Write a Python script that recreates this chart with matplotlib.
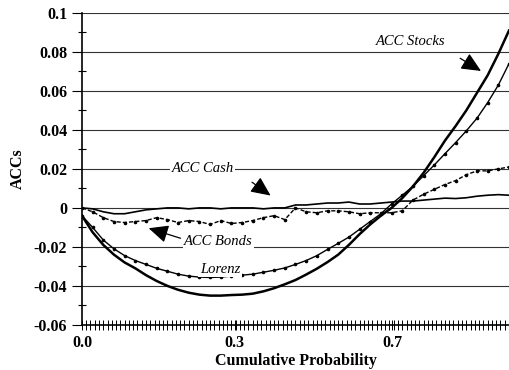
import numpy as np
import matplotlib
matplotlib.use('Agg')
import matplotlib.pyplot as plt
from matplotlib.ticker import MultipleLocator, FixedLocator

# horizontal position along the axis (0 = left spine, 1 = right edge)
cum_prob = [0.000, 0.025, 0.050, 0.075, 0.100, 0.125, 0.150, 0.175, 0.200, 0.225,
            0.250, 0.275, 0.300, 0.325, 0.350, 0.375, 0.400, 0.425, 0.450, 0.475,
            0.500, 0.525, 0.550, 0.575, 0.600, 0.625, 0.650, 0.675, 0.700, 0.725,
            0.750, 0.775, 0.800, 0.825, 0.850, 0.875, 0.900, 0.925, 0.950, 0.975, 1.000]

acc_stocks = [-0.0040, -0.0125, -0.0190, -0.0240, -0.0280, -0.0310, -0.0345, -0.0375,
              -0.0400, -0.0420, -0.0435, -0.0445, -0.0450, -0.0450, -0.0447, -0.0445,
              -0.0440, -0.0428, -0.0412, -0.0392, -0.0370, -0.0342, -0.0312, -0.0278,
              -0.0240, -0.0190, -0.0135, -0.0085, -0.0040, 0.0000, 0.0050, 0.0110,
              0.0180, 0.0260, 0.0345, 0.0420, 0.0500, 0.0590, 0.0680, 0.0790, 0.0910]

lorenz = [-0.0040, -0.0100, -0.0165, -0.0210, -0.0245, -0.0270, -0.0290, -0.0310,
          -0.0325, -0.0340, -0.0350, -0.0355, -0.0357, -0.0355, -0.0350, -0.0345,
          -0.0340, -0.0330, -0.0320, -0.0308, -0.0290, -0.0270, -0.0245, -0.0213,
          -0.0182, -0.0150, -0.0110, -0.0070, -0.0030, 0.0020, 0.0065, 0.0110,
          0.0165, 0.0220, 0.0278, 0.0335, 0.0395, 0.0460, 0.0540, 0.0630, 0.0740]

acc_cash = [0.0000, -0.0005, -0.0020, -0.0030, -0.0030, -0.0020, -0.0010, -0.0005,
            0.0000, 0.0000, -0.0005, 0.0000, 0.0000, -0.0005, 0.0000, 0.0000,
            0.0000, -0.0005, 0.0000, 0.0000, 0.0015, 0.0015, 0.0020, 0.0025,
            0.0025, 0.0030, 0.0020, 0.0020, 0.0025, 0.0030, 0.0035, 0.0035,
            0.0040, 0.0045, 0.0050, 0.0048, 0.0052, 0.0060, 0.0065, 0.0068, 0.0065]

acc_bonds = [0.0000, -0.0020, -0.0050, -0.0070, -0.0075, -0.0070, -0.0065, -0.0050,
             -0.0060, -0.0075, -0.0065, -0.0070, -0.0085, -0.0065, -0.0080, -0.0075,
             -0.0065, -0.0050, -0.0040, -0.0060, 0.0000, -0.0020, -0.0025, -0.0015,
             -0.0015, -0.0020, -0.0030, -0.0025, -0.0025, -0.0025, -0.0015, 0.0040,
             0.0070, 0.0095, 0.0120, 0.0140, 0.0170, 0.0190, 0.0190, 0.0200, 0.0210]

xtick_pos = [0.0, 0.358, 0.726]
xtick_labels = ['0.0', '0.3', '0.7']

serif = ['Liberation Serif', 'DejaVu Serif']

fig = plt.figure(figsize=(5.09, 3.70), dpi=100)
ax = fig.add_axes([0.161, 0.122, 0.839, 0.843])

for yv in np.arange(-0.04, 0.101, 0.02):
    ax.axhline(yv, color='#333333', lw=0.8, zorder=1)

ax.plot(cum_prob, acc_stocks, color='black', lw=1.8, zorder=3)
ax.plot(cum_prob, lorenz, color='black', lw=1.0, marker='o', ms=1.6, zorder=3)
ax.plot(cum_prob, acc_cash, color='black', lw=1.2, zorder=3)
ax.plot(cum_prob, acc_bonds, color='black', lw=1.0, ls=(0, (3, 1.5)), marker='o', ms=1.6, zorder=3)

ax.set_xlim(0, 1)
ax.set_ylim(-0.06, 0.1)

for s in ['top', 'right']:
    ax.spines[s].set_visible(False)
ax.spines['left'].set_linewidth(1.2)
ax.spines['bottom'].set_linewidth(1.2)

ax.yaxis.set_minor_locator(MultipleLocator(0.01))
ax.set_yticks(np.arange(-0.06, 0.101, 0.02))
ax.set_yticklabels(['-0.06', '-0.04', '-0.02', '0', '0.02', '0.04', '0.06', '0.08', '0.1'])
ax.tick_params(axis='y', which='major', direction='out', length=7, width=0.8)
ax.tick_params(axis='y', which='minor', direction='inout', length=6, width=0.8)

ax.xaxis.set_major_locator(FixedLocator(xtick_pos))
ax.set_xticklabels(xtick_labels)
ax.xaxis.set_minor_locator(MultipleLocator(0.01))
ax.tick_params(axis='x', which='both', direction='inout', length=7, width=0.7)

for lab in ax.get_xticklabels() + ax.get_yticklabels():
    lab.set_fontfamily(serif)
    lab.set_fontweight('bold')
    lab.set_fontsize(11.5)

ax.set_ylabel('ACCs', family=serif, fontweight='bold', fontsize=11.5, labelpad=6)
ax.set_xlabel('Cumulative Probability', family=serif, fontweight='bold', fontsize=11.5, labelpad=2)

arrow = dict(arrowstyle='-|>,head_length=1.2,head_width=0.55', color='black', lw=0.9)
ax.annotate('', xy=(0.940, 0.0695), xytext=(0.880, 0.0775), arrowprops=arrow, zorder=4)
ax.annotate('', xy=(0.447, 0.0055), xytext=(0.393, 0.0140), arrowprops=arrow, zorder=4)
ax.annotate('', xy=(0.150, -0.0100), xytext=(0.237, -0.0160), arrowprops=arrow, zorder=4)

tkw = dict(family=serif, style='italic', fontsize=10.5, ha='center', va='center', zorder=5)
ax.text(0.770, 0.0855, 'ACC Stocks', bbox=dict(fc='white', ec='none', pad=1), **tkw)
ax.text(0.283, 0.0200, 'ACC Cash', bbox=dict(fc='white', ec='none', pad=1), **tkw)
ax.text(0.320, -0.0170, 'ACC Bonds', bbox=dict(fc='white', ec='none', pad=1), **tkw)
ax.text(0.323, -0.0315, 'Lorenz', bbox=dict(fc='white', ec='none', pad=1), **tkw)

fig.savefig('out.png', dpi=100)
